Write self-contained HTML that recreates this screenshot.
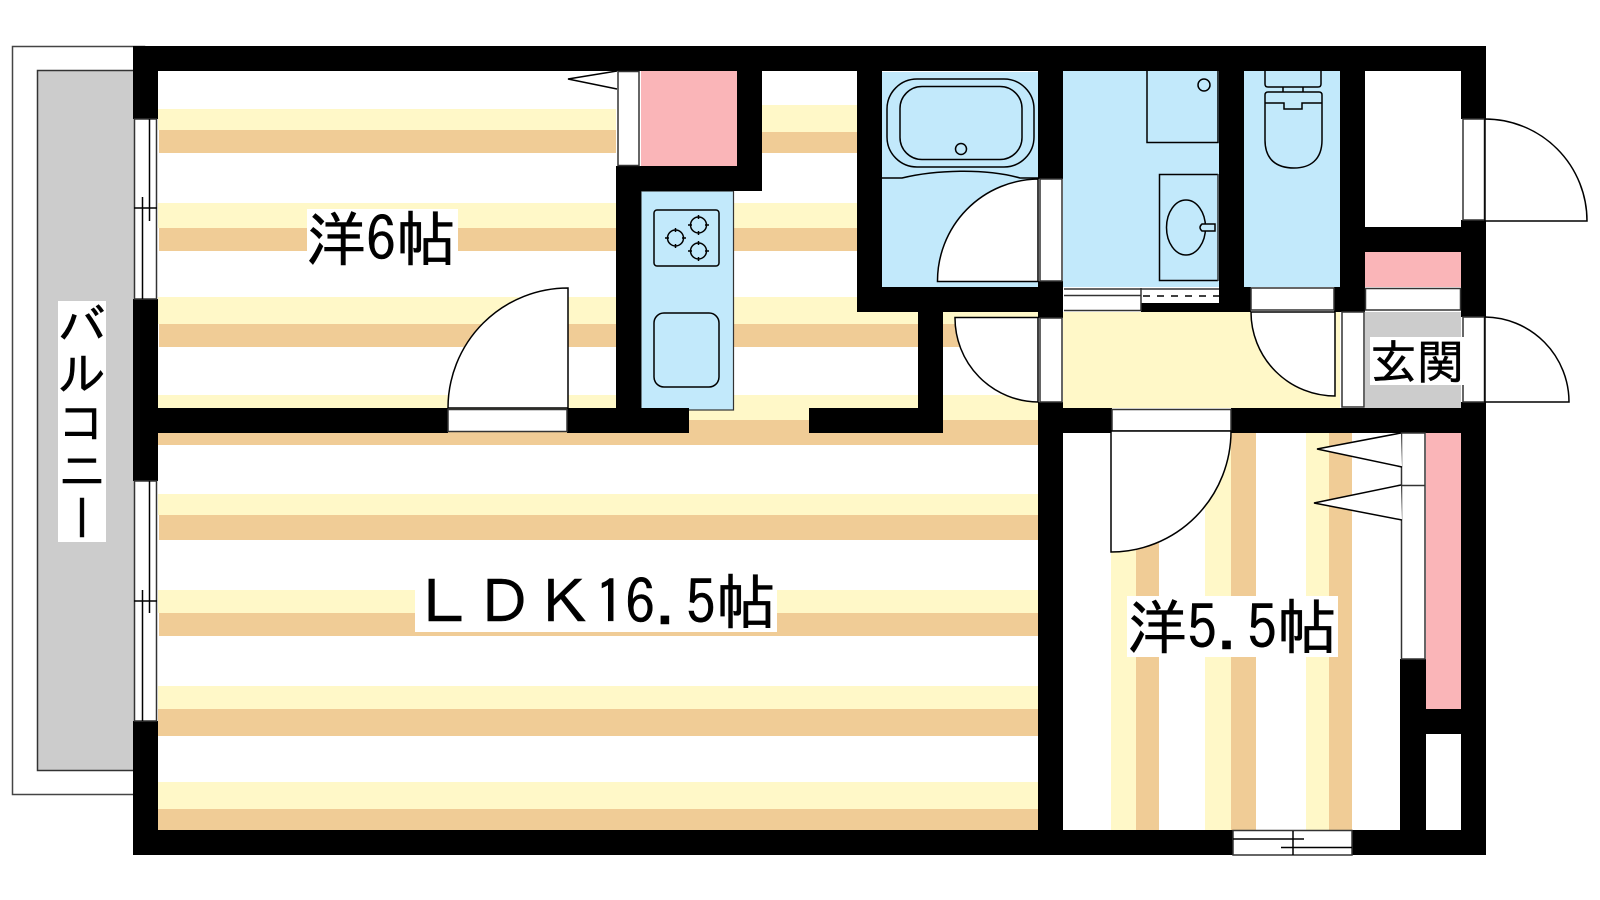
<!DOCTYPE html>
<html lang="ja"><head><meta charset="utf-8"><style>
html,body{margin:0;padding:0;background:#fff}
svg{display:block}
text{font-family:"IPAGothic","Liberation Sans","Noto Sans CJK JP",sans-serif;fill:#000;stroke:#000;stroke-width:.5}
.l{fill:none;stroke:#000;stroke-width:1.5}
.g{fill:none;stroke:#333;stroke-width:1.5}
.w{fill:#fff;stroke:#000;stroke-width:1.5}
.f{fill:#fff;stroke:#333;stroke-width:1.5}
</style></head><body>
<svg width="1600" height="900" viewBox="0 0 1600 900" xmlns="http://www.w3.org/2000/svg">
<rect width="1600" height="900" fill="#fff"/>
<!-- balcony -->
<rect x="12.5" y="46.5" width="132" height="748" fill="#fff" stroke="#444" stroke-width="1.5"/>
<rect x="37.5" y="70.5" width="100" height="700" fill="#ccc" stroke="#333" stroke-width="1.5"/>
<!-- horizontal floor stripes -->
<g fill="#fff8c8">
<rect x="158" y="109" width="458" height="21"/><rect x="762" y="105" width="95" height="27"/>
<rect x="158" y="203" width="700" height="25"/>
<rect x="158" y="297" width="880" height="27"/>
<rect x="158" y="395" width="880" height="25"/>
<rect x="158" y="494" width="880" height="21"/>
<rect x="158" y="590" width="880" height="23"/>
<rect x="158" y="686" width="880" height="23"/>
<rect x="158" y="782" width="880" height="27"/>
</g>
<g fill="#f0cc96">
<rect x="159" y="130" width="457" height="23"/><rect x="762" y="132" width="95" height="21"/>
<rect x="159" y="228" width="700" height="23"/>
<rect x="159" y="324" width="879" height="23"/>
<rect x="158" y="420" width="880" height="25"/>
<rect x="159" y="515" width="879" height="25"/>
<rect x="159" y="613" width="879" height="23"/>
<rect x="158" y="709" width="880" height="27"/>
<rect x="158" y="809" width="880" height="21"/>
</g>
<!-- vertical floor stripes -->
<g fill="#fff8c8"><rect x="1111" y="433" width="25" height="397"/><rect x="1205" y="433" width="26" height="397"/><rect x="1306" y="433" width="23" height="397"/></g>
<g fill="#f0cc96"><rect x="1136" y="433" width="23" height="397"/><rect x="1231" y="433" width="25" height="397"/><rect x="1329" y="433" width="23" height="397"/></g>
<!-- room fills -->
<rect x="616" y="71" width="25" height="95" fill="#fff"/>
<rect x="641" y="71" width="96" height="95" fill="#fab5b8"/>
<rect x="641" y="191" width="92.500" height="219" fill="#c2e9fb" stroke="#333" stroke-width="1.200"/>
<rect x="882" y="72" width="156" height="215" fill="#c2e9fb"/>
<rect x="1063" y="71" width="156" height="216" fill="#c2e9fb"/>
<rect x="1244" y="71" width="96" height="216" fill="#c2e9fb"/>
<rect x="1365" y="252" width="96" height="35" fill="#fab5b8"/>
<rect x="1063" y="312" width="277" height="96" fill="#fff8c8"/>
<rect x="1365" y="312" width="96" height="96" fill="#ccc"/>
<rect x="1426" y="433" width="35" height="276" fill="#fab5b8"/>
<!-- walls -->
<g fill="#000">
<rect x="133" y="46" width="1353" height="25"/>
<rect x="133" y="830" width="1100" height="25"/><rect x="1352" y="830" width="134" height="25"/>
<rect x="133" y="46" width="25" height="73"/><rect x="133" y="299" width="25" height="182"/><rect x="133" y="721" width="25" height="134"/>
<rect x="1461" y="46" width="25" height="73"/><rect x="1461" y="220" width="25" height="97"/><rect x="1461" y="402" width="25" height="453"/>
<rect x="158" y="408" width="290" height="25"/><rect x="567" y="408" width="122" height="25"/>
<rect x="809" y="408" width="134" height="25"/><rect x="918" y="287" width="25" height="146"/>
<rect x="616" y="166" width="25" height="267"/><rect x="616" y="166" width="146" height="25"/><rect x="737" y="46" width="25" height="145"/>
<rect x="857" y="46" width="25" height="266"/><rect x="857" y="287" width="206" height="25"/>
<rect x="1038" y="46" width="25" height="133"/><rect x="1038" y="281" width="25" height="37"/><rect x="1038" y="402" width="25" height="453"/>
<rect x="1038" y="408" width="74" height="25"/><rect x="1231" y="408" width="255" height="25"/>
<rect x="1219" y="46" width="25" height="266"/><rect x="1219" y="287" width="32" height="25"/>
<rect x="1340" y="46" width="25" height="266"/><rect x="1334" y="287" width="31" height="25"/>
<rect x="1340" y="227" width="121" height="25"/>
<rect x="1400" y="659" width="26" height="196"/><rect x="1400" y="709" width="61" height="25"/>
<rect x="1141" y="303" width="78" height="9"/>
</g>
<!-- windows left -->
<g class="g"><rect x="134.500" y="119" width="22" height="180" fill="#fff"/><rect x="134.500" y="481" width="22" height="240" fill="#fff"/></g>
<g class="l">
<path d="M149.500 119V221M142.500 197V299M134 208H157"/>
<path d="M149.500 481V613M142.500 590V721M134 601H157"/>
</g>
<!-- closet 6 -->
<rect x="618" y="71.500" width="21" height="94" class="f"/>
<path d="M617 71L568 79L617 89" class="w"/>
<!-- door 6 -->
<path d="M568 288V408H448A120 120 0 0 1 568 288Z" class="w"/>
<rect x="448" y="409.500" width="119" height="22" class="f"/>
<!-- kitchen -->
<rect x="654" y="210" width="65" height="56" rx="3" class="l"/>
<circle cx="675.500" cy="238" r="8" class="l"/><circle cx="698.500" cy="225" r="8" class="l"/><circle cx="698.500" cy="251" r="8" class="l"/>
<path class="l" d="M665 238h4M682 238h4M675.500 228v4M675.500 244v4M688 225h4M705 225h4M698.500 215v4M698.500 231v4M688 251h4M705 251h4M698.500 241v4M698.500 257v4"/>
<rect x="654" y="313" width="65" height="74" rx="10" class="l"/>
<!-- bath -->
<rect x="887" y="79" width="147" height="88" rx="30" class="l"/>
<rect x="900" y="86.500" width="122" height="73" rx="22" class="l"/>
<circle cx="961" cy="149" r="5.500" class="l"/>
<path d="M882 178H902C935 170 985 168 1020 178H1038" class="l"/>
<path d="M1038 179V281.500H937.500A102 102 0 0 1 1038 179Z" class="w"/>
<rect x="1040" y="179" width="22" height="102" class="f"/>
<!-- wash -->
<path d="M1147 71V142.500H1218V71" class="l"/>
<circle cx="1204" cy="85" r="6" class="l"/>
<path d="M1218 174.500H1159.500V280.500H1218" class="l"/><path d="M1218 174V281" class="g"/>
<ellipse cx="1186" cy="227.500" rx="19.500" ry="27.500" class="l"/>
<path d="M1215 224H1202Q1198 227.500 1202 231H1215Z" fill="#c2e9fb" stroke="#000" stroke-width="1.500"/>
<rect x="1064" y="288" width="155" height="15" fill="#fff"/><rect x="1064" y="303" width="77" height="8" fill="#fff"/>
<path d="M1064 289H1219" class="g"/><path d="M1064 295.500H1141M1141 288V311M1064 310.500H1141" class="g"/>
<path d="M1143 296H1219" stroke="#000" stroke-width="1.500" stroke-dasharray="7 7"/>
<!-- toilet -->
<path d="M1265 71V84Q1265 87 1268 87H1318Q1321 87 1321 84V71" class="l"/>
<path d="M1283 87V92M1303 87V92" class="l"/>
<path d="M1265 95Q1265 92 1268 92H1319Q1322 92 1322 95V140C1322 160 1310 168 1294 168C1277 168 1265 160 1265 140Z" class="l"/>
<path d="M1265 103H1284V109H1302V103H1322" class="l"/>
<rect x="1251" y="288" width="83" height="22" class="f"/>
<path d="M1335 312V396A84 84 0 0 1 1251 312Z" class="w"/>
<!-- closets top right -->
<rect x="1365" y="71" width="96" height="156" fill="#fff"/>
<rect x="1365.500" y="288.500" width="95" height="21.500" class="f"/>
<rect x="1342" y="312" width="22" height="95" class="f"/>
<!-- door hall -->
<rect x="1040" y="318" width="22" height="84" class="f"/>
<path d="M955 317.500H1038V402A84 84 0 0 1 955 317.500Z" class="w"/>
<!-- entrance doors -->
<rect x="1463" y="119" width="21.500" height="101" class="f"/>
<rect x="1463" y="317" width="21.500" height="85" class="f"/>
<path d="M1485 119A102 102 0 0 1 1587 221H1485Z" class="w"/>
<path d="M1485 317A85 85 0 0 1 1569 402H1485Z" class="w"/>
<!-- door 5.5 -->
<rect x="1112" y="409.500" width="119" height="21.500" class="f"/>
<path d="M1111 431H1231A120 121 0 0 1 1111 552Z" class="w"/>
<!-- closet 5.5 -->
<rect x="1401.500" y="433" width="23.500" height="226" class="f"/>
<path d="M1401 485.500H1425" class="g"/>
<path d="M1401 433L1317 449L1402 467" class="w"/>
<path d="M1401 485L1314 503L1402 520" class="w"/>
<rect x="1426" y="734" width="35" height="96" fill="#fff"/>
<!-- bottom window -->
<rect x="1233" y="830.500" width="119" height="24.500" class="f"/>
<path d="M1233 839H1304M1281 847.500H1352M1293 831V855" class="l"/>
<!-- labels -->
<rect x="58" y="301" width="48" height="241" fill="#fff"/>
<text x="82" y="301" font-size="48" style="writing-mode:vertical-rl;text-orientation:upright;glyph-orientation-vertical:0" text-anchor="start">バルコニー</text>
<rect x="307" y="209" width="151" height="59" fill="#fff"/>
<text x="306" y="261" font-size="60">洋6帖</text>
<rect x="415" y="575" width="362" height="57" fill="#fff"/>
<text x="414" y="624" font-size="60" textLength="362">ＬＤＫ16.5帖</text>
<rect x="1127" y="596" width="211" height="61" fill="#fff"/>
<text x="1127" y="649" font-size="60">洋5.5帖</text>
<rect x="1370" y="337" width="94" height="48" fill="#fff"/>
<text x="1370" y="379" font-size="47">玄関</text>
</svg>
</body></html>
